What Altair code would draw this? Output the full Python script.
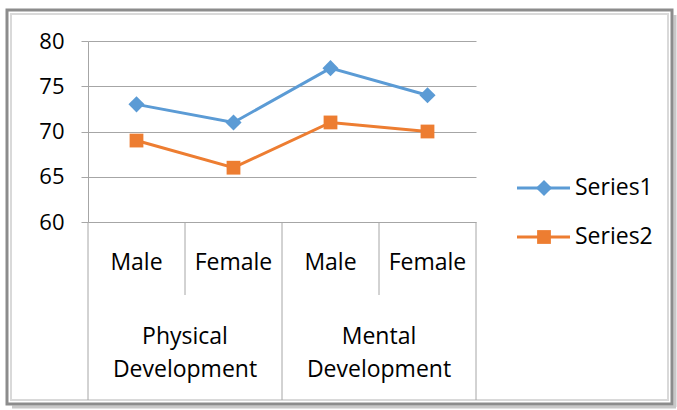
import altair as alt
import pandas as pd

# ---- data ----
sub_labels = ["Male", "Female", "Male", "Female"]
group_labels = ["Physical\nDevelopment", "Mental\nDevelopment"]
series_names = ["Series1", "Series2"]
series1 = [73, 71, 77, 74]
series2 = [69, 66, 71, 70]
y_ticks = [60, 65, 70, 75, 80]
inner_bounds = [1, 3]
outer_bounds = [0, 2, 4]

rows = []
for name, vals in zip(series_names, [series1, series2]):
    for i, v in enumerate(vals):
        rows.append({"idx": i, "series": name, "value": v})
df = pd.DataFrame(rows)
cat_df = pd.DataFrame({"idx": list(range(len(sub_labels))), "label": sub_labels})
grp_df = pd.DataFrame({"g": list(range(len(group_labels))), "label": group_labels})
leg_df = pd.DataFrame({"series": series_names})
inner_df = pd.DataFrame({"b": inner_bounds})
outer_df = pd.DataFrame({"b": outer_bounds})

FONT = "Open Sans"
FS_Y = 22
FS = 23
GRID = "#A6A6A6"
BLUE = "#5B9BD5"
ORANGE = "#ED7D31"

W, H = 388, 181
PL, PT = 88, 41

xscale = alt.Scale(domain=[0, 4])
color = alt.Color("series:N", scale=alt.Scale(domain=series_names, range=[BLUE, ORANGE]), legend=None)
shape = alt.Shape("series:N", scale=alt.Scale(domain=series_names, range=["diamond", "square"]), legend=None)
size = alt.Size("series:N", scale=alt.Scale(domain=series_names, range=[260, 190]), legend=None)

yenc = alt.Y(
    "value:Q",
    scale=alt.Scale(domain=[60, 80]),
    axis=alt.Axis(
        values=y_ticks, grid=True, gridColor=GRID, domainColor=GRID, tickColor=GRID,
        tickSize=7, labelFontSize=FS_Y, labelFont=FONT, labelColor="black",
        labelPadding=17, title=None, domainWidth=1,
    ),
)

base = alt.Chart(df).transform_calculate(pos="datum.idx + 0.5")
xenc = alt.X("pos:Q", scale=xscale, axis=None)

line = base.mark_line(strokeWidth=3).encode(x=xenc, y=yenc, color=color)
pts = base.mark_point(filled=True, opacity=1).encode(x=xenc, y=yenc, color=color, shape=shape, size=size)

cats = alt.Chart(cat_df).transform_calculate(pos="datum.idx + 0.5").mark_text(
    font=FONT, fontSize=FS, baseline="middle", align="center", color="black"
).encode(x=alt.X("pos:Q", scale=xscale, axis=None), y=alt.value(263 - PT), text="label:N")

grps = alt.Chart(grp_df).transform_calculate(pos="datum.g * 2 + 1").mark_text(
    font=FONT, fontSize=FS, baseline="middle", align="center", color="black",
    lineBreak="\n", lineHeight=33,
).encode(x=alt.X("pos:Q", scale=xscale, axis=None), y=alt.value(337 - PT), text="label:N")

inner = alt.Chart(inner_df).mark_rule(color=GRID, strokeWidth=1).encode(
    x=alt.X("b:Q", scale=xscale, axis=None), y=alt.value(H), y2=alt.value(295 - PT)
)
outer = alt.Chart(outer_df).mark_rule(color=GRID, strokeWidth=1).encode(
    x=alt.X("b:Q", scale=xscale, axis=None), y=alt.value(H), y2=alt.value(400 - PT)
)

# legend, one row per series
legend_layers = []
for name, ypix in zip(series_names, [188, 237]):
    src = alt.Chart(leg_df).transform_filter(alt.datum.series == name)
    legend_layers.append(src.mark_rule(strokeWidth=3).encode(
        x=alt.value(517 - PL), x2=alt.value(570 - PL), y=alt.value(ypix - PT), color=color))
    legend_layers.append(src.mark_point(filled=True, opacity=1).encode(
        x=alt.value(544 - PL), y=alt.value(ypix - PT), color=color, shape=shape, size=size))
    legend_layers.append(src.mark_text(
        font=FONT, fontSize=FS, align="left", baseline="middle", color="black"
    ).encode(x=alt.value(575 - PL), y=alt.value(ypix - PT), text="series:N"))

frame_df = pd.DataFrame({"a": [0]})
frame_inner = alt.Chart(frame_df).mark_rect(fill="transparent", stroke="#D9D9D9", strokeWidth=2).encode(
    x=alt.value(11 - PL), x2=alt.value(668 - PL), y=alt.value(14 - PT), y2=alt.value(400 - PT)
)
frame = alt.Chart(frame_df).mark_rect(fill="transparent", stroke="#8C8C8C", strokeWidth=3).encode(
    x=alt.value(7 - PL), x2=alt.value(672 - PL), y=alt.value(10 - PT), y2=alt.value(404 - PT)
)
shadow_r = alt.Chart(frame_df).mark_rule(color="#C8C8C8", strokeWidth=3).encode(
    x=alt.value(675 - PL), y=alt.value(15 - PT), y2=alt.value(407 - PT)
)
shadow_b = alt.Chart(frame_df).mark_rule(color="#C8C8C8", strokeWidth=3).encode(
    x=alt.value(12 - PL), x2=alt.value(676 - PL), y=alt.value(407 - PT)
)

chart = alt.layer(
    shadow_r, shadow_b, frame_inner, frame, inner, outer, line, pts, cats, grps, *legend_layers
).properties(
    width=W, height=H,
    autosize=alt.AutoSizeParams(type="none"),
    padding={"left": PL, "top": PT, "right": 677 - PL - W, "bottom": 410 - PT - H},
    background="white",
).configure_view(stroke=None)

chart.save("out.html", embed_options={"renderer": "svg", "actions": False})
